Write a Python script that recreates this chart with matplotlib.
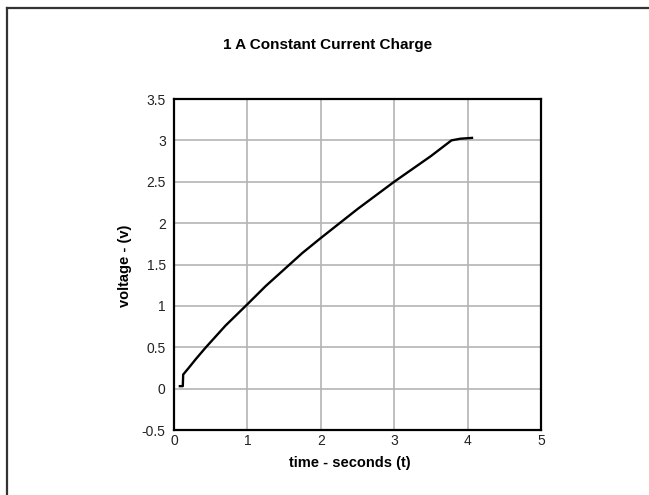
import matplotlib
matplotlib.use("Agg")
import matplotlib.pyplot as plt
from matplotlib.lines import Line2D

plt.rcParams['font.family'] = ['Liberation Sans', 'DejaVu Sans']

# charge curve
time_s = [0.08, 0.12, 0.125, 0.2, 0.3, 0.435, 0.7, 1.0, 1.25, 1.5, 1.75, 2.0, 2.5, 3.0, 3.5, 3.78, 3.9, 4.06]
volts = [0.03, 0.03, 0.17, 0.25, 0.36, 0.50, 0.76, 1.02, 1.24, 1.44, 1.64, 1.82, 2.17, 2.50, 2.81, 3.00, 3.02, 3.03]

x_ticks = [0, 1, 2, 3, 4, 5]
y_ticks = [-0.5, 0, 0.5, 1, 1.5, 2, 2.5, 3, 3.5]
y_tick_labels = ['-0.5', '0', '0.5', '1', '1.5', '2', '2.5', '3', '3.5']

W, H = 649, 495
fig = plt.figure(figsize=(W / 100, H / 100), dpi=100)
ax = fig.add_axes([174 / W, 1 - 430 / H, 367 / W, 331 / H])

ax.plot(time_s, volts, color='black', linewidth=1.7)

ax.set_xlim(0, 5)
ax.set_ylim(-0.5, 3.5)
ax.set_xticks(x_ticks)
ax.set_yticks(y_ticks)
ax.set_yticklabels(y_tick_labels)
ax.tick_params(axis='both', length=0, labelsize=10, colors='#222222')
ax.tick_params(axis='x', pad=3)
ax.tick_params(axis='y', pad=6)
ax.grid(True, color='#b4b4b4', linewidth=1.2)
ax.set_axisbelow(True)
for s in ax.spines.values():
    s.set_linewidth(1.6)
    s.set_color('black')

fig.text(328 / W, 1 - 45 / H, '1 A Constant Current Charge', ha='center', va='center',
         fontsize=11, fontweight='bold')
fig.text(350 / W, 1 - 463 / H, 'time - seconds (t)', ha='center', va='center',
         fontsize=10.5, fontweight='bold')
fig.text(125 / W, 1 - 266 / H, 'voltage - (v)', ha='center', va='center', rotation=90,
         fontsize=10.5, fontweight='bold')

# outer frame (only top and left edges show)
fig.add_artist(Line2D([6.5 / W, 1.0], [1 - 7.5 / H, 1 - 7.5 / H], color='#333333', linewidth=1.6))
fig.add_artist(Line2D([6.5 / W, 6.5 / W], [0.0, 1 - 7.5 / H], color='#333333', linewidth=1.6))

fig.savefig('out.png', dpi=100)
